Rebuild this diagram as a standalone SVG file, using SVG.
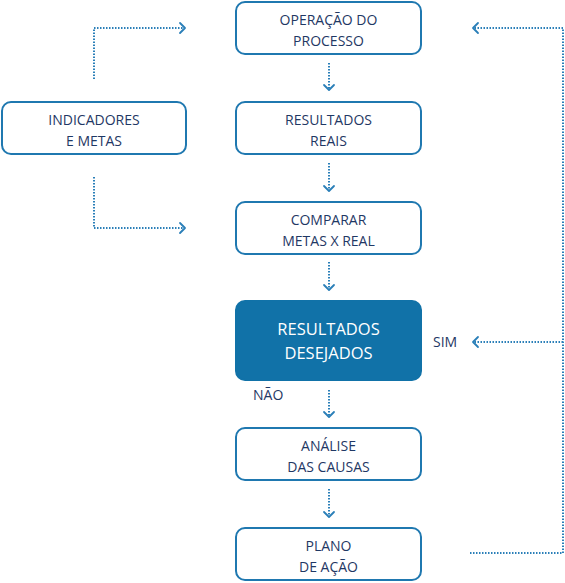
<svg xmlns="http://www.w3.org/2000/svg" width="565" height="583" viewBox="0 0 565 583">
<defs>
<style>
.box{fill:#fff;stroke:#1f78b0;stroke-width:2}
.fbox{fill:#1172a8;stroke:#1172a8;stroke-width:2}
.t{font-family:"Open Sans","Liberation Sans",sans-serif;font-size:14px;fill:#1f3864;text-anchor:middle}
.tw{font-family:"Open Sans","Liberation Sans",sans-serif;font-size:16.5px;fill:#fff;text-anchor:middle}
.lbl{font-family:"Open Sans","Liberation Sans",sans-serif;font-size:14px;fill:#1f3864}
.c{fill:none;stroke:#2a7fb8;stroke-width:2;stroke-dasharray:1.5 1.5}
.ah{fill:none;stroke:#2a7fb8;stroke-width:1.8;stroke-linecap:round;stroke-linejoin:round}
</style>
</defs>
<g id="connectors">
<path class="c" d="M94 79 V28 H184"/>
<path class="ah" d="M180 23 L185 28 L180 33"/>
<path class="c" d="M94 177 V228 H184"/>
<path class="ah" d="M180 223 L185 228 L180 233"/>
<path class="c" d="M470 553 H563 V28 H474"/>
<path class="ah" d="M478 23 L473 28 L478 33"/>
<path class="c" d="M563 342 H474"/>
<path class="ah" d="M478 337 L473 342 L478 347"/>
<path class="c" d="M329 63 V89"/>
<path class="ah" d="M324 85 L329 90 L334 85"/>
<path class="c" d="M329 163 V190"/>
<path class="ah" d="M324 186 L329 191 L334 186"/>
<path class="c" d="M329 262 V289"/>
<path class="ah" d="M324 285 L329 290 L334 285"/>
<path class="c" d="M329 390 V416"/>
<path class="ah" d="M324 412 L329 417 L334 412"/>
<path class="c" d="M329 489 V516"/>
<path class="ah" d="M324 512 L329 517 L334 512"/>
</g>
<g id="n-operacao"><rect class="box" x="236" y="2" width="185" height="52" rx="9"/><text class="t" x="328.5" y="25">OPERAÇÃO DO</text><text class="t" x="328.5" y="46">PROCESSO</text></g>
<g id="n-indicadores"><rect class="box" x="2" y="102" width="184" height="52" rx="9"/><text class="t" x="94" y="125">INDICADORES</text><text class="t" x="94" y="146">E METAS</text></g>
<g id="n-reais"><rect class="box" x="236" y="102" width="185" height="52" rx="9"/><text class="t" x="328.5" y="125">RESULTADOS</text><text class="t" x="328.5" y="146">REAIS</text></g>
<g id="n-comparar"><rect class="box" x="236" y="202" width="185" height="52" rx="9"/><text class="t" x="328.5" y="225">COMPARAR</text><text class="t" x="328.5" y="246">METAS X REAL</text></g>
<g id="n-desejados"><rect class="fbox" x="236" y="301" width="185" height="79" rx="9"/><text class="tw" x="328.5" y="335">RESULTADOS</text><text class="tw" x="328.5" y="359">DESEJADOS</text></g>
<g id="n-analise"><rect class="box" x="236" y="428" width="185" height="52" rx="9"/><text class="t" x="328.5" y="451">ANÁLISE</text><text class="t" x="328.5" y="472">DAS CAUSAS</text></g>
<g id="n-plano"><rect class="box" x="236" y="528" width="185" height="52" rx="9"/><text class="t" x="328.5" y="551">PLANO</text><text class="t" x="328.5" y="572">DE AÇÃO</text></g>
<g id="labels">
<text class="lbl" x="433" y="347">SIM</text>
<text class="lbl" x="253" y="400">NÃO</text>
</g>
</svg>
